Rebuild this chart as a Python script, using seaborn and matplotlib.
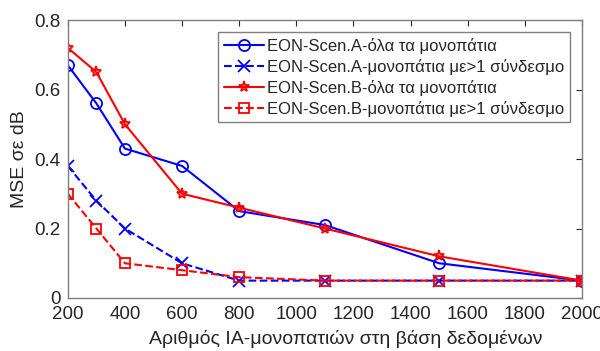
import matplotlib
matplotlib.use("Agg")
import matplotlib.pyplot as plt
import seaborn as sns
import pandas as pd

sns.set_theme(style="white")
plt.rcParams['font.family'] = ['Liberation Sans', 'DejaVu Sans']

x = [200, 300, 400, 600, 800, 1100, 1500, 2000]
a_all = [0.67, 0.56, 0.43, 0.38, 0.25, 0.21, 0.10, 0.05]
a_gt1 = [0.38, 0.28, 0.20, 0.10, 0.05, 0.05, 0.05, 0.05]
b_all = [0.72, 0.65, 0.50, 0.30, 0.26, 0.20, 0.12, 0.05]
b_gt1 = [0.30, 0.20, 0.10, 0.08, 0.06, 0.05, 0.05, 0.05]

labels = ["EON-Scen.A-όλα τα μονοπάτια",
          "EON-Scen.A-μονοπάτια με>1 σύνδεσμο",
          "EON-Scen.B-όλα τα μονοπάτια",
          "EON-Scen.B-μονοπάτια με>1 σύνδεσμο"]
xticks = [200, 400, 600, 800, 1000, 1200, 1400, 1600, 1800, 2000]
yticks = [0, 0.2, 0.4, 0.6, 0.8]
yticklabels = ["0", "0.2", "0.4", "0.6", "0.8"]

fig = plt.figure(figsize=(6, 3.51), dpi=100)
ax = fig.add_axes([0.113, 0.151, 0.857, 0.792])

styles = [
    (a_all, "blue", "-", "o", 8, "none"),
    (a_gt1, "blue", "--", "x", 8, "blue"),
    (b_all, "red", "-", "*", 8, "none"),
    (b_gt1, "red", "--", "s", 7, "none"),
]
for (vals, c, ls, m, ms, mfc), lab in zip(styles, labels):
    df = pd.DataFrame({"x": x, "y": vals})
    sns.lineplot(data=df, x="x", y="y", ax=ax, color=c, linestyle=ls,
                 marker=m, markersize=ms, markerfacecolor=mfc,
                 markeredgecolor=c, markeredgewidth=1.3, linewidth=1.5,
                 label=lab)

ax.set_xlim(200, 2000)
ax.set_ylim(0, 0.8)
ax.set_xticks(xticks)
ax.set_yticks(yticks)
ax.set_yticklabels(yticklabels)
ax.tick_params(direction="in", top=True, right=True, length=4,
               labelsize=13.5, colors="#262626", width=0.8)
ax.tick_params(axis="x", pad=6)
ax.tick_params(axis="y", pad=5)
for s in ax.spines.values():
    s.set_color("#7f7f7f")
    s.set_linewidth(1.0)
ax.set_xlabel("Αριθμός IA-μονοπατιών στη βάση δεδομένων", fontsize=14, color="#262626")
ax.xaxis.set_label_coords(0.54, -0.115)
ax.set_ylabel("MSE σε dB", fontsize=14, color="#262626")
ax.yaxis.set_label_coords(-0.077, 0.5)

leg = ax.legend(loc="upper right", fontsize=12, frameon=True, fancybox=False,
                edgecolor="#7f7f7f", framealpha=1, handlelength=2.4,
                borderaxespad=0.7, labelspacing=0.3, handletextpad=0.2,
                borderpad=0.35)
leg.get_frame().set_linewidth(1.0)

fig.savefig("out.png", dpi=100)
